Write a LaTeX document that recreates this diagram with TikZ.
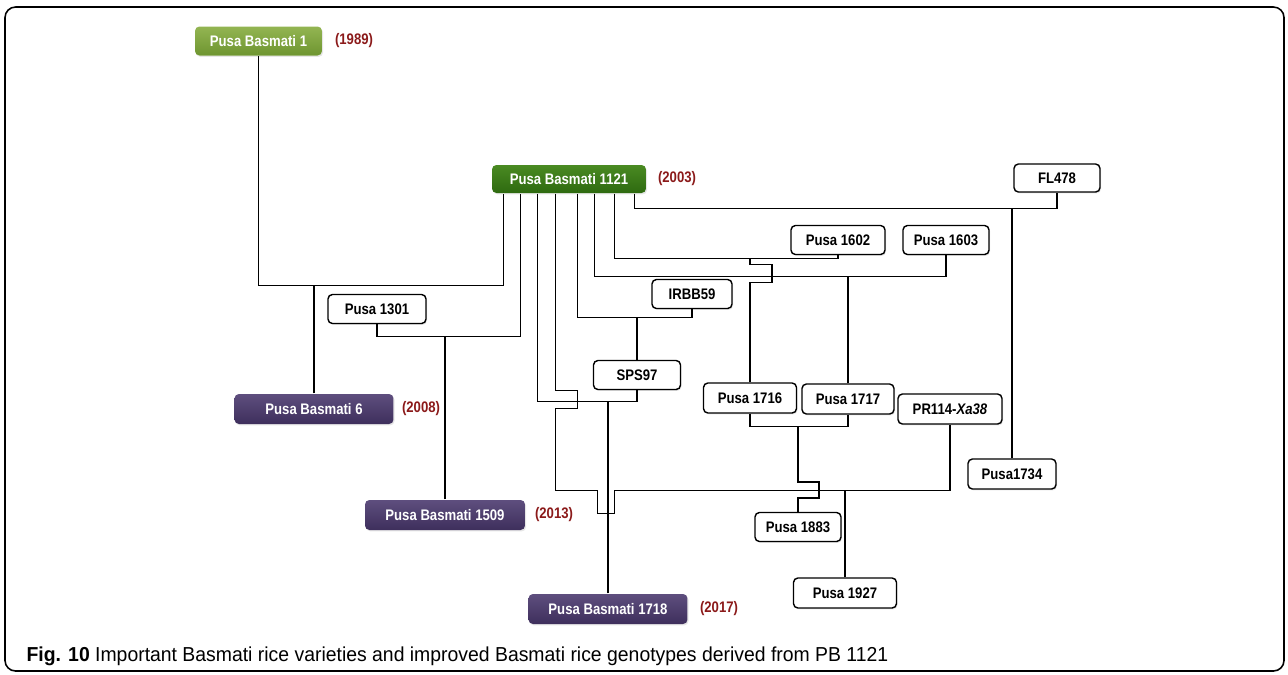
\documentclass[tikz,border=0pt]{standalone}
\usepackage{fontspec}
\setmainfont{Liberation Sans}
\newfontfamily\boxfont[FakeStretch=0.86]{Liberation Sans}
\newfontfamily\capfont[FakeStretch=0.96]{Liberation Sans}
\usepackage{tikz}
\usetikzlibrary{calc, shadows}
\definecolor{yearred}{HTML}{8B1A1A}
\definecolor{oldgreen}{HTML}{6E9530}
\definecolor{oldgreenlight}{HTML}{93B552}
\definecolor{pbgreen}{HTML}{2E6A10}
\definecolor{pbgreenlight}{HTML}{4A8A22}
\definecolor{newpurple}{HTML}{3E2F5C}
\definecolor{newpurplelight}{HTML}{5E4E7E}

\begin{document}
\begin{tikzpicture}[x=0.02cm, y=-0.02cm, line width=0.8pt,
    variety/.style={draw, rounded corners=2.5pt, fill=white, inner sep=0pt,
        font=\boxfont\bfseries\fontsize{8.7}{10}\selectfont,
        drop shadow={opacity=0.2, shadow xshift=0.6pt, shadow yshift=-0.8pt}},
    released/.style={variety, draw=none, text=white},
    oldpb/.style={released, top color=oldgreenlight, bottom color=oldgreen},
    parentpb/.style={released, top color=pbgreenlight, bottom color=pbgreen},
    newpb/.style={released, top color=newpurplelight, bottom color=newpurple},
    year/.style={text=yearred, font=\boxfont\bfseries\fontsize{8.7}{10}\selectfont}]
    \useasboundingbox (0,0) rectangle (1288,674);
    \draw[line width=0.9pt, rounded corners=6pt] (5,7) rectangle (1284,671);

    % Nodes
    \node (pb1) [oldpb, minimum width=2.54cm, minimum height=0.58cm] at (258.5,41) {Pusa Basmati 1};
    \node (pb1121) [parentpb, minimum width=3.08cm, minimum height=0.56cm] at (569,179) {Pusa Basmati 1121};
    \node (fl478) [variety, minimum width=1.72cm, minimum height=0.56cm] at (1057,178) {FL478};
    \node (p1602) [variety, minimum width=1.88cm, minimum height=0.58cm] at (838,240) {Pusa 1602};
    \node (p1603) [variety, minimum width=1.72cm, minimum height=0.58cm] at (946,240) {Pusa 1603};
    \node (p1301) [variety, minimum width=1.96cm, minimum height=0.58cm] at (377,309) {Pusa 1301};
    \node (irbb59) [variety, minimum width=1.6cm, minimum height=0.58cm] at (692,294) {IRBB59};
    \node (sps97) [variety, minimum width=1.74cm, minimum height=0.58cm] at (637,375) {SPS97};
    \node (pb6) [newpb, minimum width=3.18cm, minimum height=0.6cm] at (314,409) {Pusa Basmati 6};
    \node (p1716) [variety, minimum width=1.86cm, minimum height=0.6cm] at (750,398) {Pusa 1716};
    \node (p1717) [variety, minimum width=1.84cm, minimum height=0.6cm] at (848,399) {Pusa 1717};
    \node (pr114) [variety, minimum width=2.08cm, minimum height=0.6cm] at (950,409) {PR114-\textit{Xa38}};
    \node (p1734) [variety, minimum width=1.76cm, minimum height=0.6cm] at (1012,474) {Pusa1734};
    \node (pb1509) [newpb, minimum width=3.2cm, minimum height=0.6cm] at (445,515) {Pusa Basmati 1509};
    \node (p1883) [variety, minimum width=1.72cm, minimum height=0.58cm] at (798,527) {Pusa 1883};
    \node (p1927) [variety, minimum width=2.06cm, minimum height=0.6cm] at (845,593) {Pusa 1927};
    \node (pb1718) [newpb, minimum width=3.18cm, minimum height=0.6cm] at (608,609) {Pusa Basmati 1718};

    % Release years
    \node (y1989) [year] at (354,41) {(1989)};
    \node (y2003) [year] at (677,179) {(2003)};
    \node (y2008) [year] at (421,409) {(2008)};
    \node (y2013) [year] at (554,515) {(2013)};
    \node (y2017) [year] at (719,609) {(2017)};

    % Outlets under PB 1121
    \coordinate (out1) at ($(pb1121.south west)+(12,0)$);
    \coordinate (out2) at ($(pb1121.south west)+(29,0)$);
    \coordinate (out3) at ($(pb1121.south west)+(46,0)$);
    \coordinate (out4) at ($(pb1121.south west)+(64,0)$);
    \coordinate (out5) at ($(pb1121.south west)+(86,0)$);
    \coordinate (out6) at ($(pb1121.south west)+(103,0)$);
    \coordinate (out7) at ($(pb1121.south west)+(123,0)$);
    \coordinate (out8) at ($(pb1121.south west)+(143,0)$);

    % Lines
    \draw (pb1.south) |- ($(out1)+(0,92)$) coordinate (m1) -- (out1);
    \draw (pb6.north) -- (pb6.north |- m1);
    \draw (p1301.south) |- ($(out2)+(0,143)$) coordinate (m2) -- (out2);
    \draw (pb1509.north) -- (pb1509.north |- m2);
    \draw (out5) |- ($(irbb59.south)+(0,8)$) coordinate (m5) -- (irbb59.south);
    \draw (sps97.north) -- (sps97.north |- m5);
    \draw (out3) |- ($(sps97.south)+(0,11)$) coordinate (m3) -- (sps97.south);
    \draw (pb1718.north) -- (pb1718.north |- m3);
    \draw (out4) -- ++(0,197) -- ++(22,0) -- ++(0,18) -- ++(-22,0)
        -- ++(0,82) coordinate (m4) -- ++(42,0) -- ++(0,23) -- ++(17,0)
        -- ++(0,-23) -| (pr114.south);
    \draw (p1927.north) -- (p1927.north |- m4);
    \draw (out6) |- ($(p1603.south)+(0,21)$) coordinate (m6) -- (p1603.south);
    \draw (p1717.north) -- (p1717.north |- m6);
    \draw (out7) |- ($(p1602.south)+(0,3)$) coordinate (m7) -- (p1602.south);
    \draw (p1716.north) -- ++(0,-100) -- ++(22,0) -- ++(0,-18) -- ++(-22,0)
        -- (p1716.north |- m7);
    \draw (out8) |- ($(fl478.south)+(0,16)$) coordinate (m8) -- (fl478.south);
    \draw (p1734.north) -- (p1734.north |- m8);
    \draw (p1716.south) -- ++(0,13) coordinate (m9) -| (p1717.south);
    \draw (p1883.north) -- ++(0,-14) -- ++(21,0) -- ++(0,-16) -- ++(-21,0)
        -- (p1883.north |- m9);

    % Caption
    \node (caption) [anchor=base west, font=\capfont\fontsize{11.5}{13}\selectfont] at (20,661)
        {\textbf{Fig. 10} Important Basmati rice varieties and improved Basmati rice genotypes derived from PB 1121};
\end{tikzpicture}
\end{document}
